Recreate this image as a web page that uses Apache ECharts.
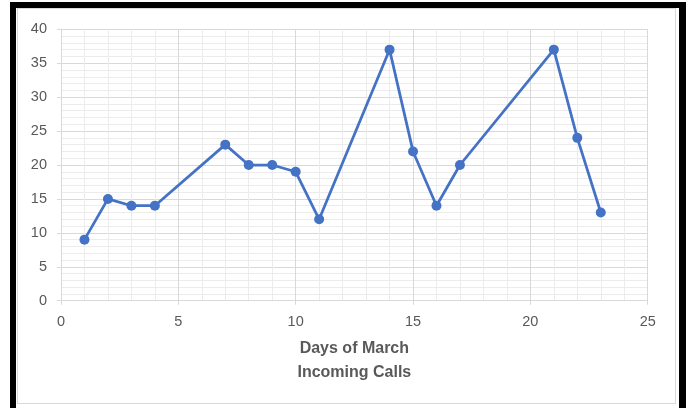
<!DOCTYPE html>
<html>
<head>
<meta charset="utf-8">
<script src="https://cdn.jsdelivr.net/npm/echarts@6/dist/echarts.min.js"></script>
<style>
  html, body { margin: 0; padding: 0; background: #fff; overflow: hidden; }
  #wrap { position: relative; width: 689px; height: 408px; overflow: hidden; background: #fff; }
  #chart { position: absolute; left: 0; top: 0; width: 689px; height: 408px; }
  #frame {
    position: absolute; left: 10px; top: 2px; width: 663px; height: 410px;
    border-left: 6px solid #000; border-top: 6px solid #000;
    border-right: 7px solid #000; border-bottom: 6px solid #000;
    pointer-events: none; box-sizing: content-box;
  }
  #inner {
    position: absolute; left: 17px; top: 8px; width: 659px; height: 396px;
    border: 1px solid #d9d9d9; box-sizing: border-box; pointer-events: none;
  }
</style>
</head>
<body>
<div id="wrap">
  <div id="chart"></div>
  <div id="inner"></div>
  <div id="frame"></div>
</div>
<script>
// Incoming calls per day in March
const days  = [1, 2, 3, 4, 7, 8, 9, 10, 11, 14, 15, 16, 17, 21, 22, 23];
const calls = [9, 15, 14, 14, 23, 20, 20, 19, 12, 37, 22, 14, 20, 37, 24, 13];
const xTicks = [0, 5, 10, 15, 20, 25];
const yTicks = [0, 5, 10, 15, 20, 25, 30, 35, 40];
const axisTitle = ['Days of March', 'Incoming Calls'];

const points = days.map((d, i) => [d, calls[i]]);
const labelColor = '#595959';
const gridColor = '#d9d9d9';
const minorColor = '#ececec';
const font = '"Liberation Sans", Arial, sans-serif';

const chart = echarts.init(document.getElementById('chart'), null, { renderer: 'canvas' });
chart.setOption({
  animation: false,
  backgroundColor: '#fff',
  grid: { left: 61, right: 41.3, top: 29.3, bottom: 107.3, containLabel: false },
  xAxis: {
    type: 'value',
    min: xTicks[0], max: xTicks[xTicks.length - 1], interval: 5,
    axisLine: { show: true, lineStyle: { color: gridColor, width: 1 } },
    axisTick: { show: true, length: 4, lineStyle: { color: gridColor } },
    axisLabel: { color: labelColor, fontSize: 14.5, fontFamily: font, margin: 14 },
    splitLine: { show: true, lineStyle: { color: gridColor, width: 1 } },
    minorTick: { show: false, splitNumber: 5 },
    minorSplitLine: { show: true, lineStyle: { color: minorColor, width: 1 } },
    name: axisTitle.join('\n'),
    nameLocation: 'middle',
    nameGap: 36,
    nameTextStyle: { color: labelColor, fontSize: 16, fontWeight: 'bold', fontFamily: font, lineHeight: 24 }
  },
  yAxis: {
    type: 'value',
    min: yTicks[0], max: yTicks[yTicks.length - 1], interval: 5,
    axisLine: { show: true, lineStyle: { color: gridColor, width: 1 } },
    axisTick: { show: true, length: 4, lineStyle: { color: gridColor } },
    axisLabel: { color: labelColor, fontSize: 14.5, fontFamily: font, margin: 14 },
    splitLine: { show: true, lineStyle: { color: gridColor, width: 1 } },
    minorTick: { show: false, splitNumber: 5 },
    minorSplitLine: { show: true, lineStyle: { color: minorColor, width: 1 } }
  },
  series: [{
    type: 'line',
    data: points,
    symbol: 'circle',
    symbolSize: 10,
    lineStyle: { color: '#4472c4', width: 2.75 },
    itemStyle: { color: '#4472c4' }
  }]
});
</script>
</body>
</html>
